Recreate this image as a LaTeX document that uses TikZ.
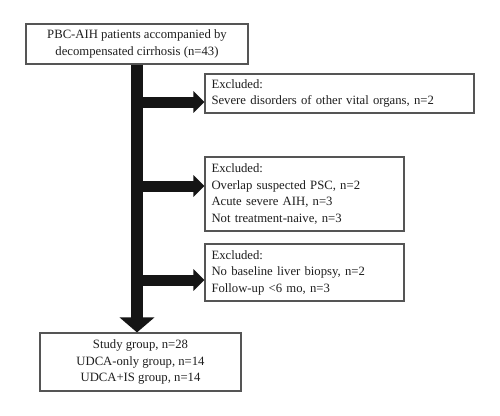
\documentclass[tikz,border=0pt]{standalone}
\usepackage{fontspec}
\setmainfont{Liberation Serif}
\usetikzlibrary{arrows.meta}
\definecolor{boxline}{HTML}{555555}
\definecolor{arrowc}{HTML}{151515}
\definecolor{textc}{HTML}{1E1E1E}
\begin{document}
\begin{tikzpicture}[x=1pt,y=-1pt,
  every node/.style={font=\fontsize{12.7}{16.5}\selectfont, text=textc},
  boxc/.style={draw=boxline, line width=1.1pt, inner xsep=6.5pt, inner ysep=0pt, align=center},
  boxl/.style={draw=boxline, line width=1.1pt, inner xsep=6.5pt, inner ysep=0pt, align=left},
  vshaft/.style={draw=arrowc, line width=12pt, -{Triangle[length=15pt,width=34pt]}},
  hshaft/.style={draw=arrowc, line width=11pt, -{Triangle[length=11pt,width=21pt]}}]
\fill[white] (0,0) rectangle (500,415);
\useasboundingbox (0,0) rectangle (500,415);

\node[boxc, minimum width=222pt, minimum height=40pt] (top) at (137,44)
  {PBC-AIH patients accompanied by\\decompensated cirrhosis (n=43)};
\node[boxl, minimum width=269pt, minimum height=39pt, text width=256pt] (ex1) at (339.5,93.5)
  {Excluded:\\Severe disorders of other vital organs, n=2};
\node[boxl, minimum width=199pt, minimum height=74pt, text width=186pt] (ex2) at (304.5,194)
  {Excluded:\\Overlap suspected PSC, n=2\\Acute severe AIH, n=3\\Not treatment-naive, n=3};
\node[boxl, minimum width=199pt, minimum height=57pt, text width=186pt] (ex3) at (304.5,272.5)
  {Excluded:\\No baseline liver biopsy, n=2\\Follow-up <6 mo, n=3};
\node[boxc, minimum width=201pt, minimum height=58pt] (bot) at (140.5,362)
  {Study group, n=28\\UDCA-only group, n=14\\UDCA+IS group, n=14};

\coordinate (s1) at (137,102);
\coordinate (s2) at (137,186);
\coordinate (s3) at (137,280);

\draw[vshaft] (top.south) -- (top.south |- bot.north);
\draw[hshaft] (s1) -- (s1 -| ex1.west);
\draw[hshaft] (s2) -- (s2 -| ex2.west);
\draw[hshaft] (s3) -- (s3 -| ex3.west);
\end{tikzpicture}
\end{document}
